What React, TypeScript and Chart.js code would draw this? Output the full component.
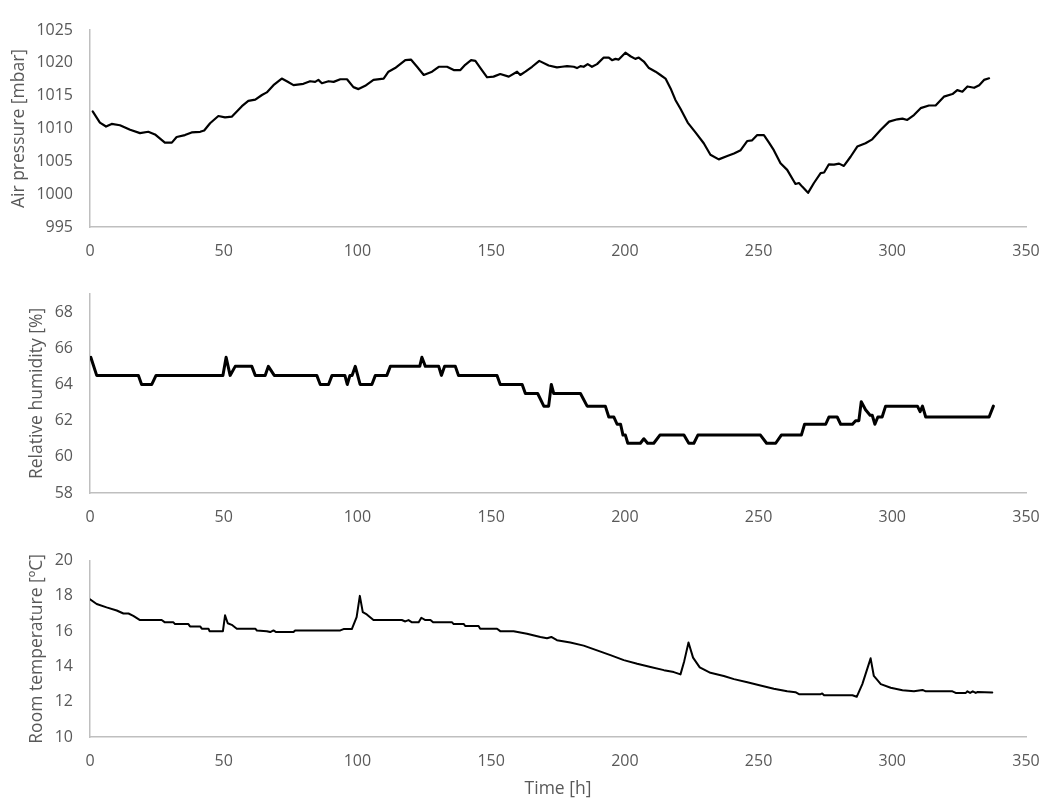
import React, { useEffect, useRef } from "react";
import { Chart, registerables } from "chart.js";

Chart.register(...registerables);

// ---------- data ----------
const xTickLabels = [0, 50, 100, 150, 200, 250, 300, 350];

const pressureTimes = [
  1, 3.7, 6, 8.1, 11.2, 15, 18.7, 21.8, 24.3, 28, 30.6, 32.4, 35.5, 38, 41.2, 42.7, 44.9, 48, 50.5, 53,
  54.9, 56.8, 59.2, 61.8, 64.3, 66.1, 68.6, 71.7, 73.6, 76.1, 79.8, 82.3, 84.2, 85.4, 86.7, 89.2, 91.1, 93.6, 96.1, 98.5,
  100.4, 102.9, 106, 109.8, 111.6, 114.1, 117.9, 120, 122.3, 124.8, 127.9, 130.4, 133.5, 136, 138.5, 140.3, 142.5, 144.1, 146, 148.5,
  150.9, 153.4, 156.6, 159.7, 160.9, 162.8, 165.3, 168, 171.5, 174.6, 176.5, 178.4, 180.9, 182.1, 183.4, 184.6, 186.1, 187.7, 189.6, 192.1,
  194, 195.2, 196.5, 197.7, 200.2, 202.1, 203.9, 205.2, 207.1, 209, 211.5, 213.3, 215.2, 217.1, 218.9, 220.8, 223.5, 226.4, 229.5, 232,
  235.1, 238.3, 240.8, 243.3, 245.8, 247.6, 249.5, 252, 253.9, 255.7, 258.2, 260.7, 263.8, 265.1, 266.3, 268.5, 270.7, 273.2, 274.5, 276.3,
  278.2, 280.1, 281.9, 284.4, 286.9, 290, 292.5, 295.7, 298.8, 301.9, 303.8, 305.6, 308.1, 310.6, 313.7, 316.2, 319.3, 322.5, 324.3, 326.2,
  328.1, 330.6, 332.5, 334.3, 336.2,
];
const pressureValues = [
  1012.6, 1010.9, 1010.3, 1010.7, 1010.5, 1009.8, 1009.3, 1009.5, 1009.1, 1007.85, 1007.85, 1008.7, 1009.0, 1009.4, 1009.5, 1009.7, 1010.8, 1011.9, 1011.7, 1011.8,
  1012.6, 1013.4, 1014.2, 1014.4, 1015.1, 1015.5, 1016.6, 1017.6, 1017.2, 1016.6, 1016.8, 1017.2, 1017.1, 1017.4, 1016.9, 1017.2, 1017.1, 1017.5, 1017.5, 1016.3,
  1016.0, 1016.5, 1017.4, 1017.6, 1018.65, 1019.2, 1020.4, 1020.5, 1019.4, 1018.15, 1018.65, 1019.4, 1019.4, 1018.9, 1018.9, 1019.7, 1020.4, 1020.3, 1019.2, 1017.8,
  1017.9, 1018.3, 1017.9, 1018.65, 1018.15, 1018.65, 1019.4, 1020.3, 1019.6, 1019.3, 1019.4, 1019.5, 1019.4, 1019.2, 1019.5, 1019.4, 1019.8, 1019.4, 1019.8, 1020.8,
  1020.8, 1020.4, 1020.6, 1020.5, 1021.55, 1021.0, 1020.6, 1020.8, 1020.2, 1019.2, 1018.65, 1018.15, 1017.6, 1016.1, 1014.35, 1013.0, 1010.9, 1009.4, 1007.75, 1006.0,
  1005.3, 1005.8, 1006.2, 1006.7, 1008.1, 1008.2, 1009.0, 1009.0, 1007.85, 1006.7, 1004.7, 1003.7, 1001.55, 1001.7, 1001.15, 1000.2, 1001.7, 1003.2, 1003.3, 1004.55,
  1004.5, 1004.65, 1004.3, 1005.7, 1007.25, 1007.75, 1008.35, 1009.8, 1011.05, 1011.4, 1011.5, 1011.3, 1012.05, 1013.1, 1013.5, 1013.5, 1014.85, 1015.25, 1015.85, 1015.6,
  1016.4, 1016.2, 1016.6, 1017.4, 1017.65,
];

const humidityTimes = [
  0.3, 2.5, 18.1, 19.3, 23.1, 24.7, 49.7, 50.9, 52.4, 54.3, 60.5, 61.8, 65.5, 66.7, 68.9, 84.8, 86.1, 89.2, 90.5, 95.3,
  96.2, 97.2, 98, 99.2, 101, 105.4, 106.7, 111, 112.3, 123.3, 124.1, 125.4, 130.4, 131.4, 132.6, 136.6, 137.8, 152.2, 153.4, 161.6,
  162.8, 167.4, 169.7, 171.5, 172.5, 173.4, 183.4, 185.9, 192.7, 194, 195.9, 197.1, 198.4, 199.3, 200.2, 201.1, 205.8, 207.1, 208.5, 210.8,
  213.1, 222.1, 223.9, 225.8, 227.3, 250.7, 253, 256.4, 258.5, 266, 267.2, 275.1, 276.3, 279.4, 280.7, 285.1, 286.3, 287.5, 288.4, 290,
  291.7, 292.5, 293.5, 294.6, 296.2, 297.5, 309.4, 310.4, 311.3, 312.5, 336.2, 337.8,
];
const humidityValues = [
  65.5, 64.5, 64.5, 64, 64, 64.5, 64.5, 65.5, 64.5, 65, 65, 64.5, 64.5, 65, 64.5, 64.5, 64, 64, 64.5, 64.5,
  64, 64.5, 64.5, 65, 64, 64, 64.5, 64.5, 65, 65, 65.5, 65, 65, 64.5, 65, 65, 64.5, 64.5, 64, 64,
  63.5, 63.5, 62.8, 62.8, 64, 63.5, 63.5, 62.8, 62.8, 62.2, 62.2, 61.8, 61.8, 61.2, 61.2, 60.75, 60.75, 61.0, 60.75, 60.75,
  61.2, 61.2, 60.75, 60.75, 61.2, 61.2, 60.75, 60.75, 61.2, 61.2, 61.8, 61.8, 62.2, 62.2, 61.8, 61.8, 62.0, 62.0, 63.05, 62.6,
  62.3, 62.3, 61.8, 62.2, 62.2, 62.8, 62.8, 62.5, 62.8, 62.2, 62.2, 62.8,
];

const temperatureTimes = [
  0, 2.5, 6.2, 10, 12.5, 14.4, 16.2, 18.7, 26.8, 28, 31.2, 31.8, 36.8, 37.4, 41.2, 41.8, 44.3, 44.7, 49.7, 50.5,
  51.5, 53, 54.9, 61.8, 62.4, 66.1, 67.4, 68.6, 69.6, 76.1, 76.7, 93.6, 94.8, 97.9, 99.7, 100.9, 102, 103.5, 106, 116.6,
  117.9, 119.1, 120.4, 122.9, 123.9, 125.4, 127.3, 128.3, 135.4, 136, 139.8, 140.3, 145.3, 145.9, 152.2, 153.4, 158.4, 163.4, 168.4, 170.9,
  172.5, 174.6, 179.6, 184.6, 189.6, 194.6, 199.6, 204.6, 209.6, 214.6, 218.3, 220.8, 222.2, 223.8, 225.5, 228, 232, 237, 240.8, 245.8,
  250.7, 255.7, 260.7, 263.8, 265.1, 273.2, 273.8, 274.5, 285.1, 286.7, 288.8, 291.9, 293.1, 295.7, 299.4, 303.8, 308.1, 311.3, 312.5, 322.5,
  323.7, 327.5, 328.1, 329.1, 330.1, 331.2, 331.8, 337.4,
];
const temperatureValues = [
  17.8, 17.54, 17.35, 17.17, 17.0, 17.0, 16.87, 16.63, 16.63, 16.5, 16.5, 16.4, 16.4, 16.27, 16.27, 16.14, 16.14, 16.0, 16.0, 16.9,
  16.45, 16.36, 16.14, 16.14, 16.04, 16.0, 15.95, 16.04, 15.95, 15.95, 16.04, 16.04, 16.12, 16.12, 16.8, 18.0, 17.08, 16.95, 16.63, 16.63,
  16.55, 16.63, 16.5, 16.5, 16.76, 16.63, 16.63, 16.5, 16.5, 16.4, 16.4, 16.29, 16.29, 16.14, 16.14, 16.0, 16.0, 15.85, 15.67, 15.6,
  15.67, 15.49, 15.36, 15.18, 14.91, 14.64, 14.36, 14.15, 13.97, 13.79, 13.68, 13.55, 14.3, 15.36, 14.5, 13.95, 13.64, 13.46, 13.28, 13.1,
  12.92, 12.73, 12.59, 12.54, 12.43, 12.43, 12.47, 12.37, 12.37, 12.28, 13.0, 14.46, 13.46, 13.0, 12.79, 12.65, 12.6, 12.67, 12.59, 12.59,
  12.5, 12.5, 12.59, 12.5, 12.59, 12.5, 12.55, 12.52,
];

// ---------- styling ----------
const FONT = "'Open Sans', 'Noto Sans', 'DejaVu Sans', sans-serif";
const TEXT_GRAY = "#595959";
const AXIS_GRAY = "#bfbfbf";
const W = 1046;

type PanelProps = {
  times: number[];
  values: number[];
  yMin: number;
  yMax: number;
  yStep: number;
  yTitle: string;
  yTitlePad: number;
  lineWidth: number;
  top: number;
  height: number;
  padTop: number;
  xAxisHeight: number;
  xTitle?: string;
};

function Panel(p: PanelProps) {
  const ref = useRef<HTMLCanvasElement | null>(null);
  useEffect(() => {
    if (!ref.current) return;
    const data = p.times.map((t, i) => ({ x: t, y: p.values[i] }));
    const chart = new Chart(ref.current, {
      type: "line",
      data: {
        datasets: [
          {
            data,
            borderColor: "#000000",
            borderWidth: p.lineWidth,
            pointRadius: 0,
            tension: 0,
            borderJoinStyle: "round",
            borderCapStyle: "round",
            fill: false,
          },
        ],
      },
      options: {
        animation: false,
        responsive: false,
        events: [],
        layout: { padding: { top: p.padTop, right: 20, bottom: 0, left: 0 } },
        plugins: { legend: { display: false }, tooltip: { enabled: false } },
        scales: {
          x: {
            type: "linear",
            min: 0,
            max: 350,
            afterBuildTicks: (s: any) => {
              s.ticks = xTickLabels.map((v) => ({ value: v }));
            },
            afterFit: (s: any) => {
              s.height = p.xAxisHeight;
              s.paddingLeft = 0;
              s.paddingRight = 0;
            },
            grid: { display: false, drawTicks: false },
            border: { display: true, color: AXIS_GRAY, width: 1.5 },
            ticks: {
              padding: 15,
              color: TEXT_GRAY,
              font: { family: FONT, size: 16 },
              maxRotation: 0,
              autoSkip: false,
              callback: (v: any) => String(v),
            },
            title: p.xTitle
              ? {
                  display: true,
                  text: p.xTitle,
                  color: TEXT_GRAY,
                  font: { family: FONT, size: 17.5 },
                  padding: { top: 0, bottom: 0 },
                }
              : { display: false },
          },
          y: {
            type: "linear",
            min: p.yMin,
            max: p.yMax,
            ticks: {
              stepSize: p.yStep,
              padding: 17,
              color: TEXT_GRAY,
              font: { family: FONT, size: 16 },
              callback: (v: any) => String(v),
            },
            afterBuildTicks: (s: any) => {
              s.ticks = s.ticks.filter((t: any) => {
                const k = (t.value - p.yMin) / p.yStep;
                return Math.abs(k - Math.round(k)) < 1e-6;
              });
            },
            afterFit: (s: any) => {
              s.width = 90;
            },
            grid: { display: false, drawTicks: false },
            border: { display: true, color: AXIS_GRAY, width: 1.5 },
            title: {
              display: true,
              text: p.yTitle,
              color: TEXT_GRAY,
              font: { family: FONT, size: 17.5 },
              padding: { top: p.yTitlePad, bottom: 0 },
            },
          },
        },
      } as any,
    });
    return () => chart.destroy();
  }, []);
  return (
    <div style={{ position: "absolute", left: 0, top: p.top, width: W, height: p.height }}>
      <canvas ref={ref} width={W} height={p.height} style={{ display: "block" }} />
    </div>
  );
}

export default function App() {
  return (
    <div style={{ position: "absolute", left: 0, top: 0, width: W, height: 800, background: "#ffffff" }}>
      <Panel
        times={pressureTimes}
        values={pressureValues}
        yMin={995}
        yMax={1025}
        yStep={5}
        yTitle="Air pressure [mbar]"
        yTitlePad={9}
        lineWidth={2.2}
        top={0}
        height={267}
        padTop={30}
        xAxisHeight={40}
      />
      <Panel
        times={humidityTimes}
        values={humidityValues}
        yMin={58}
        yMax={69}
        yStep={2}
        yTitle="Relative humidity [%]"
        yTitlePad={27}
        lineWidth={3}
        top={267}
        height={267}
        padTop={27}
        xAxisHeight={41}
      />
      <Panel
        times={temperatureTimes}
        values={temperatureValues}
        yMin={10}
        yMax={20}
        yStep={2}
        yTitle="Room temperature [ºC]"
        yTitlePad={27}
        lineWidth={2}
        top={534}
        height={266}
        padTop={19}
        xAxisHeight={63}
        xTitle="Time [h]"
      />
    </div>
  );
}
